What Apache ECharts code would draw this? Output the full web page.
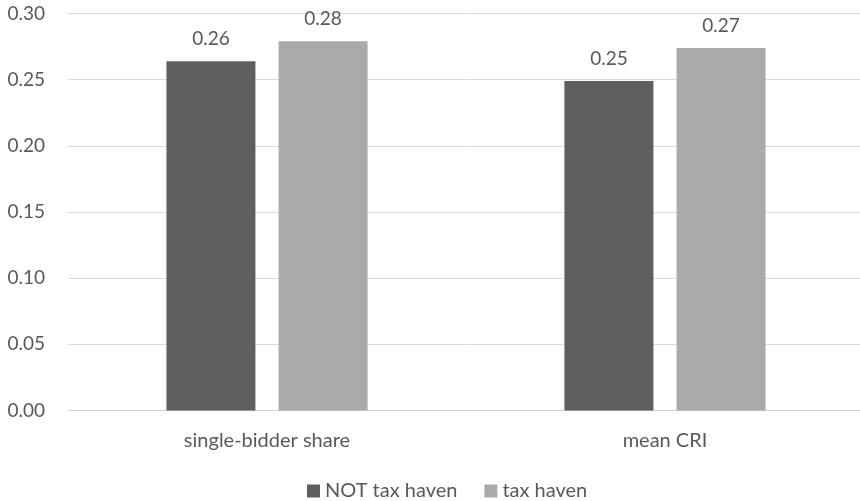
<!DOCTYPE html>
<html>
<head>
<meta charset="utf-8">
<script src="https://cdn.jsdelivr.net/npm/echarts@6/dist/echarts.min.js"></script>
<style>
  html, body { margin: 0; padding: 0; background: #fff; }
  #chart { width: 860px; height: 501px; }
</style>
</head>
<body>
<div id="chart"></div>
<script>
// Indicators compared across supplier groups
const categories = ['single-bidder share', 'mean CRI'];
const seriesNames = ['NOT tax haven', 'tax haven'];
const notTaxHaven = [0.264, 0.249];
const taxHaven = [0.279, 0.274];
const yTicks = [0, 0.05, 0.10, 0.15, 0.20, 0.25, 0.30];

const FONT = 'Lato, "Open Sans", sans-serif';
const TEXT = '#595959';

const chart = echarts.init(document.getElementById('chart'));

const labelStyle = {
  show: true,
  position: 'top',
  distance: 13,
  color: TEXT,
  fontFamily: FONT,
  fontSize: 19,
  formatter: p => p.value.toFixed(2)
};

chart.setOption({
  animation: false,
  textStyle: { fontFamily: FONT },
  grid: {
    left: 68, right: -4, top: 13.5, bottom: 90.5,
    containLabel: false,
    outerBoundsMode: 'none'
  },
  legend: {
    top: 476,
    left: 302,
    itemWidth: 13,
    itemHeight: 13,
    itemGap: 27,
    icon: 'rect',
    textStyle: { color: TEXT, fontSize: 20, fontFamily: FONT },
    data: seriesNames
  },
  xAxis: {
    type: 'category',
    data: categories,
    axisTick: { show: false },
    axisLine: { lineStyle: { color: '#d0d0d0', width: 1 } },
    axisLabel: { color: TEXT, fontSize: 20, fontFamily: FONT, margin: 20 }
  },
  yAxis: {
    type: 'value',
    min: yTicks[0],
    max: yTicks[yTicks.length - 1],
    interval: 0.05,
    axisLine: { show: false },
    axisTick: { show: false },
    splitLine: { lineStyle: { color: '#d9d9d9', width: 1 } },
    axisLabel: {
      color: TEXT,
      fontSize: 19,
      fontFamily: FONT,
      margin: 23,
      formatter: v => v.toFixed(2)
    }
  },
  series: [
    {
      name: seriesNames[0],
      type: 'bar',
      data: notTaxHaven,
      barWidth: 89,
      barGap: '26%',
      itemStyle: { color: '#5f5f5f' },
      label: labelStyle
    },
    {
      name: seriesNames[1],
      type: 'bar',
      data: taxHaven,
      barWidth: 89,
      itemStyle: { color: '#aaaaaa' },
      label: labelStyle
    }
  ]
});
</script>
</body>
</html>
